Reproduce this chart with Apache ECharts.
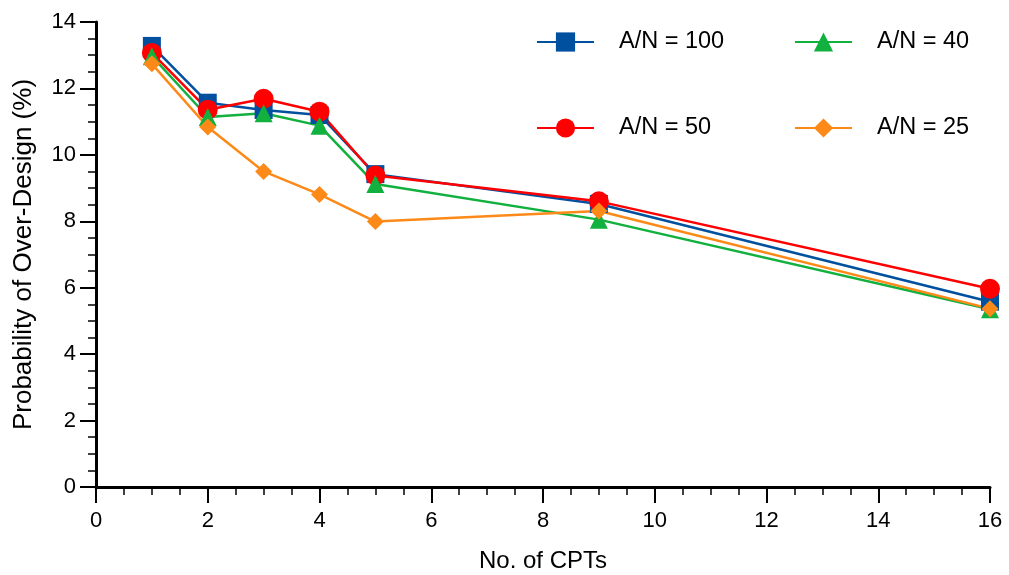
<!DOCTYPE html>
<html>
<head>
<meta charset="utf-8">
<script src="https://cdn.jsdelivr.net/npm/echarts@6/dist/echarts.min.js"></script>
<style>
  html, body { margin: 0; padding: 0; background: #fff; }
  #chart { width: 1009px; height: 575px; }
</style>
</head>
<body>
<div id="chart"></div>
<script>
// Number of CPTs on the x axis
const cpts = [1, 2, 3, 4, 5, 9, 16];

// Probability of over-design (%) for each A/N ratio
const an100 = [13.28, 11.57, 11.35, 11.2, 9.42, 8.52, 5.58];
const an50  = [13.07, 11.36, 11.69, 11.3, 9.38, 8.6, 5.97];
const an40  = [12.97, 11.14, 11.25, 10.88, 9.12, 8.05, 5.35];
const an25  = [12.74, 10.84, 9.5, 8.81, 7.99, 8.31, 5.37];

const seriesNames = ['A/N = 100', 'A/N = 50', 'A/N = 40', 'A/N = 25'];

const pairs = (ys) => cpts.map((x, i) => [x, ys[i]]);

const font = 'Liberation Sans, Arial, sans-serif';

function lineSeries(name, ys, color, symbol, size) {
  return {
    name: name,
    type: 'line',
    data: pairs(ys),
    symbol: symbol,
    symbolSize: size,
    showAllSymbol: true,
    itemStyle: { color: color },
    lineStyle: { color: color, width: 2.5 },
    emphasis: { disabled: true },
    animation: false
  };
}

const chart = echarts.init(document.getElementById('chart'), null, { renderer: 'canvas' });

const axisCommon = {
  axisLine: { show: true, onZero: false, lineStyle: { color: '#000', width: 3 } },
  axisTick: { show: true, inside: false, length: 16, lineStyle: { color: '#000', width: 2 } },
  minorTick: { show: true, splitNumber: 4, length: 8, lineStyle: { color: '#000', width: 1.5 } },
  splitLine: { show: false },
  axisLabel: { color: '#000', fontSize: 22, fontFamily: font },
  nameTextStyle: { color: '#000', fontSize: 24, fontFamily: font }
};

const legendCommon = {
  orient: 'vertical',
  top: 25,
  itemWidth: 57,
  itemHeight: 24,
  itemGap: 62,
  textStyle: { color: '#000', fontSize: 23.5, fontFamily: font, padding: [0, 0, 0, 20] },
  selectedMode: false
};

chart.setOption({
  backgroundColor: '#fff',
  grid: { left: 96, right: 19, top: 22, bottom: 88, containLabel: false, outerBoundsMode: 'none' },
  legend: [
    Object.assign({}, legendCommon, { left: 531, data: ['A/N = 100', 'A/N = 50'] }),
    Object.assign({}, legendCommon, { left: 789, data: ['A/N = 40', 'A/N = 25'] })
  ],
  xAxis: Object.assign({}, axisCommon, {
    type: 'value',
    min: 0, max: 16, interval: 2,
    name: 'No. of CPTs',
    nameLocation: 'middle',
    nameGap: 62,
    axisLabel: Object.assign({}, axisCommon.axisLabel, { margin: 23 })
  }),
  yAxis: Object.assign({}, axisCommon, {
    type: 'value',
    min: 0, max: 14, interval: 2,
    name: 'Probability of Over-Design (%)',
    nameLocation: 'middle',
    nameGap: 59,
    nameTextStyle: Object.assign({}, axisCommon.nameTextStyle, { fontSize: 26 }),
    axisLabel: Object.assign({}, axisCommon.axisLabel, { margin: 20 })
  }),
  series: [
    lineSeries(seriesNames[0], an100, '#0050a0', 'rect', 18),
    lineSeries(seriesNames[1], an50, '#ff0000', 'circle', 20),
    lineSeries(seriesNames[2], an40, '#12b03e', 'triangle', 18),
    lineSeries(seriesNames[3], an25, '#fd8a18', 'diamond', 17)
  ]
});
</script>
</body>
</html>
